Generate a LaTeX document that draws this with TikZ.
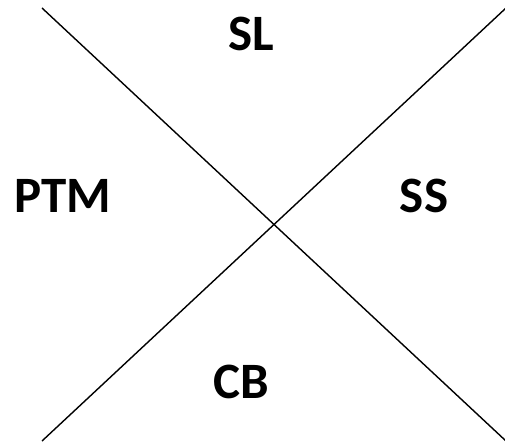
\documentclass[tikz,border=0pt]{standalone}
\usepackage{fontspec}
\setmainfont{Carlito}
\begin{document}
\begin{tikzpicture}[x=1pt,y=-1pt,
  lbl/.style={font=\fontsize{51}{51}\selectfont\bfseries, inner sep=0pt, anchor=center},
  ln/.style={draw=black, line width=1.4pt}]
\useasboundingbox (0,0) rectangle (505,441);
\coordinate (a1) at (42,8);
\coordinate (a2) at (506,441);
\coordinate (b1) at (506,8);
\coordinate (b2) at (42,441);
\draw[ln] (a1) -- (a2);
\draw[ln] (b1) -- (b2);
\node[lbl] (sl) at (251,34) {SL};
\node[lbl] (ptm) at (62.5,196) {PTM};
\node[lbl] (ss) at (424,196) {SS};
\node[lbl] (cb) at (241,382) {CB};
\end{tikzpicture}
\end{document}
